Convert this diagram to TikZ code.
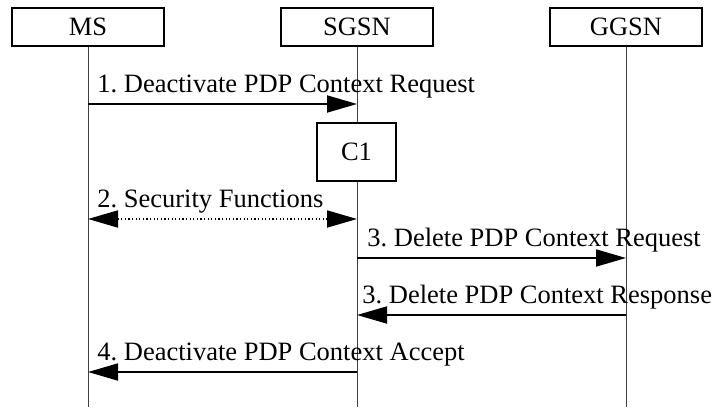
\documentclass[tikz,border=0pt]{standalone}
\usepackage{fontspec}
\setmainfont{Liberation Serif}
\usetikzlibrary{arrows.meta, positioning, calc}
\frenchspacing

\begin{document}
\begin{tikzpicture}[x=0.5pt, y=-0.5pt, font=\fontsize{13.25}{16}\selectfont]

  \tikzset{entity/.style={draw, line width=1pt, minimum width=76pt, minimum height=19pt, inner sep=0pt}}
  \tikzset{life/.style={line width=0.5pt, black!75}}
  \tikzset{tipbig/.tip={Triangle[length=15pt, width=8.5pt]}}
  \tikzset{msg/.style={line width=0.9pt, -tipbig}}
  \tikzset{secmsg/.style={line width=0.9pt, dash pattern=on 0.6pt off 1.2pt, tipbig-tipbig}}
  \tikzset{lbl/.style={anchor=base west, inner sep=0pt}}

  \useasboundingbox (0,0) rectangle (717,407);

  % entities
  \node[entity] at (88, 27) (ms) {MS};
  \node[entity] at (357, 27) (sgsn) {SGSN};
  \node[entity] at (626, 27) (ggsn) {GGSN};

  % lifelines
  \coordinate (msend) at (ms |- 0,407);
  \coordinate (sgsnend) at (sgsn |- 0,407);
  \coordinate (ggsnend) at (ggsn |- 0,407);
  \draw[life] (ms.south) -- (msend);
  \draw[life] (sgsn.south) -- (sgsnend);
  \draw[life] (ggsn.south) -- (ggsnend);

  % points on the lifelines
  \coordinate (ms1) at (ms |- 0,104);
  \coordinate (sgsn1) at (sgsn |- 0,104);
  \coordinate (ms2) at (ms |- 0,219);
  \coordinate (sgsn2) at (sgsn |- 0,219);
  \coordinate (sgsn3) at (sgsn |- 0,258);
  \coordinate (ggsn3) at (ggsn |- 0,258);
  \coordinate (sgsn4) at (sgsn |- 0,315);
  \coordinate (ggsn4) at (ggsn |- 0,315);
  \coordinate (ms5) at (ms |- 0,372);
  \coordinate (sgsn5) at (sgsn |- 0,372);

  % condition box
  \node[draw, fill=white, line width=1pt, minimum width=39.5pt, minimum height=29pt, inner sep=0pt]
    at (356.5, 152) (c1) {C1};

  % messages
  \draw[msg] (ms1) -- (sgsn1);
  \node[lbl] at ($(ms1)+(9,-12)$) (l1) {1. Deactivate PDP Context Request};

  \draw[secmsg] (ms2) -- (sgsn2);
  \node[lbl] at ($(ms2)+(9,-12)$) (l2) {2. Security Functions};

  \draw[msg] (sgsn3) -- (ggsn3);
  \node[lbl] at ($(sgsn3)+(10,-12)$) (l3) {3. Delete PDP Context Request};

  \draw[msg] (ggsn4) -- (sgsn4);
  \node[lbl] at ($(sgsn4)+(5,-12)$) (l4) {3. Delete PDP Context Response};

  \draw[msg] (sgsn5) -- (ms5);
  \node[lbl] at ($(ms5)+(9,-12)$) (l5) {4. Deactivate PDP Context Accept};
\end{tikzpicture}
\end{document}
